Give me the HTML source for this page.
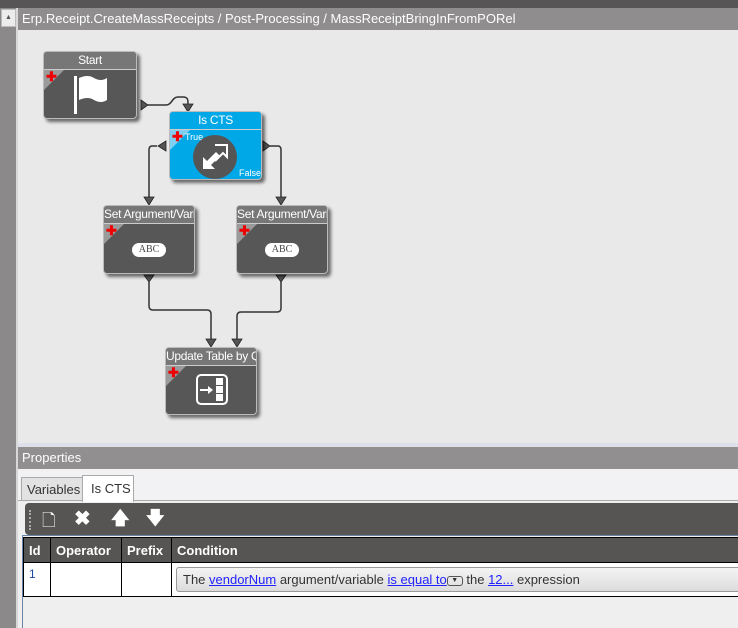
<!DOCTYPE html>
<html><head><meta charset="utf-8"><style>
*{margin:0;padding:0;box-sizing:border-box}
body{width:738px;height:628px;overflow:hidden;background:#e9e9e9;font-family:"Liberation Sans",sans-serif;position:relative}
.a{position:absolute}
.node{position:absolute;border-radius:4px;background:#575757;border:1px solid #bbb;box-shadow:3px 3px 3px rgba(0,0,0,.55);overflow:hidden}
.node .h{height:18px;border-bottom:1px solid #ccc;color:#fff;font-size:12px;text-align:center;line-height:17px;white-space:nowrap;overflow:hidden;background:#777;letter-spacing:-0.3px}
.node .tri{position:absolute;left:0;top:18px;width:0;height:0;border-top:20px solid #9a9a9a;border-right:20px solid transparent}
.node .plus{position:absolute;left:2px;top:18px;color:#e00;font-weight:bold;font-size:13px;line-height:13px}
.abc{position:absolute;background:#fff;border-radius:8px;font-family:"Liberation Serif",serif;font-size:10px;color:#444;width:34px;height:14px;text-align:center;line-height:14px}
th,td{border:1px solid #000}
</style></head><body>
<div class="a" style="left:0;top:0;width:738px;height:8px;background:#575555"></div>
<div class="a" style="left:0;top:8px;width:16px;height:620px;background:#8b8989"></div>
<div class="a" style="left:16px;top:8px;width:2px;height:620px;background:#d8d8d8"></div>
<div class="a" style="left:1px;top:9px;width:15px;height:18px;background:#ececec;border:1px solid #bbb;font-size:7px;text-align:center;line-height:16px;color:#555">▲</div>
<div class="a" style="left:18px;top:8px;width:720px;height:22px;background:#8f8d8d;color:#fff;font-size:13px;line-height:22px;padding-left:4px">Erp.Receipt.CreateMassReceipts / Post-Processing / MassReceiptBringInFromPORel</div>

<svg class="a" style="left:0;top:0" width="738" height="440">
<g fill="none" stroke="#333" stroke-width="1.5">
<path d="M148 105 H166 C172 105 172 97 178 97 H183 C188 97 188 100 188 104"/>
<path d="M157 146 H152 Q149 146 149 150 V198"/>
<path d="M270 146 H278 Q281 146 281 150 V198"/>
<path d="M149 282 V306 Q149 310 153 310 H207 Q211 310 211 314 V340"/>
<path d="M281 282 V308 Q281 312 277 312 H241 Q237 312 237 316 V340"/>
</g>
<g fill="#555" stroke="#222" stroke-width=".8">
<path d="M141 100 L148 105 L141 110Z"/>
<path d="M183 104 L193 104 L188 112Z"/>
<path d="M166 141 L158 146 L166 151Z"/>
<path d="M263 141 L270 146 L263 151Z"/>
<path d="M144 197 L154 197 L149 205Z"/>
<path d="M276 197 L286 197 L281 205Z"/>
<path d="M144 275 L154 275 L149 282Z"/>
<path d="M276 275 L286 275 L281 282Z"/>
<path d="M206 339 L216 339 L211 347Z"/>
<path d="M232 339 L242 339 L237 347Z"/>
</g>
</svg>

<div class="node" style="left:43px;top:51px;width:94px;height:68px"><div class="h">Start</div><div class="tri"></div><div class="plus">✚</div>
<svg class="a" style="left:28px;top:22px" width="40" height="42"><rect x="2" y="2" width="3" height="38" fill="#fff"/><path d="M7 4 Q16 0 22 4 Q29 8 35 4 V26 Q29 30 22 26 Q16 22 7 26Z" fill="#fff"/></svg></div>

<div class="node" style="left:169px;top:111px;width:93px;height:69px;background:#00a8e8"><div class="h" style="background:#00a8e8">Is CTS</div>
<div class="tri" style="border-top-color:#7fd0f0"></div><div class="plus">✚</div>
<div class="a" style="left:15px;top:20px;color:#fff;font-size:9px">True</div>
<div class="a" style="left:69px;top:56px;color:#fff;font-size:9px">False</div>
<div class="a" style="left:23px;top:23px;width:44px;height:44px;border-radius:50%;background:#555"></div>
<svg class="a" style="left:23px;top:23px" width="44" height="44"><path d="M10 22 V34 H22 L18 30 L27 21 L23 17 L14 26Z" fill="#fff"/><path d="M22 10 H34 V22 L30 18 L22 26" fill="none" stroke="#fff" stroke-width="2"/></svg></div>

<div class="node" style="left:103px;top:205px;width:92px;height:69px"><div class="h">Set Argument/Vari</div><div class="tri"></div><div class="plus">✚</div><div class="abc" style="left:28px;top:37px">ABC</div></div>
<div class="node" style="left:236px;top:205px;width:92px;height:69px"><div class="h">Set Argument/Vari</div><div class="tri"></div><div class="plus">✚</div><div class="abc" style="left:28px;top:37px">ABC</div></div>

<div class="node" style="left:165px;top:347px;width:92px;height:68px"><div class="h">Update Table by Q</div><div class="tri"></div><div class="plus">✚</div>
<svg class="a" style="left:28px;top:23px" width="36" height="36"><rect x="3" y="4" width="30" height="29" rx="4" fill="none" stroke="#fff" stroke-width="2"/><rect x="22" y="7" width="7" height="7" fill="#fff"/><rect x="22" y="15" width="7" height="7" fill="#fff"/><rect x="22" y="23" width="7" height="7" fill="#fff"/><path d="M6 19 H17" stroke="#fff" stroke-width="2"/><path d="M14 15 L19 19 L14 23Z" fill="#fff"/></svg></div>

<div class="a" style="left:18px;top:443px;width:720px;height:4px;background:#dde0ea"></div>
<div class="a" style="left:18px;top:447px;width:720px;height:22px;background:#918f8f;color:#fff;font-size:13px;line-height:22px;padding-left:4px">Properties</div>
<div class="a" style="left:18px;top:469px;width:720px;height:159px;background:#efefef"></div>
<div class="a" style="left:18px;top:469px;width:720px;height:32px;background:#f2f2f4;border-bottom:1px solid #aaa"></div>
<div class="a" style="left:21px;top:477px;width:62px;height:24px;background:#e2e2e2;border:1px solid #aaa;font-size:13px;line-height:24px;padding-left:5px;color:#333">Variables</div>
<div class="a" style="left:82px;top:475px;width:52px;height:27px;background:#fff;border:1px solid #aaa;border-bottom:none;font-size:13px;line-height:26px;padding-left:8px;color:#333">Is CTS</div>
<div class="a" style="left:25px;top:503px;width:713px;height:32px;background:#575553;border-radius:4px 0 0 4px;color:#fff">
<div class="a" style="left:4px;top:7px;width:2px;height:20px;border-left:2px dotted #aaa"></div>
<div class="a" style="left:17px;top:5px;font-size:17px">🗋</div>
<div class="a" style="left:49px;top:3px;font-size:20px;font-weight:bold">✖</div>
<div class="a" style="left:86px;top:3px;font-size:18px;font-weight:bold">🡅</div>
<div class="a" style="left:121px;top:3px;font-size:18px;font-weight:bold">🡇</div></div>
<div class="a" style="left:22px;top:535px;width:716px;height:93px;border-left:1px solid #6a84a8;border-top:1px solid #6a84a8"></div>
<table class="a" style="left:23px;top:537px;border-collapse:collapse;font-size:13px;width:730px">
<tr style="background:#575553;color:#fff;height:25px;font-weight:bold"><th style="width:27px;text-align:left;padding-left:5px">Id</th><th style="width:71px;text-align:left;padding-left:5px">Operator</th><th style="width:50px;text-align:left;padding-left:5px">Prefix</th><th style="text-align:left;padding-left:5px">Condition</th></tr>
<tr style="background:#fff;height:34px"><td style="vertical-align:top;padding:4px 5px;font-size:12px;color:#1a4aa0">1</td><td></td><td></td>
<td style="padding:3px 4px"><div style="border:1px solid #999;border-radius:3px;background:linear-gradient(#f4f4f4,#dcdcdc);height:25px;line-height:24px;padding-left:6px;font-size:13px;color:#333;white-space:nowrap">The <u style="color:#22f">vendorNum</u> argument/variable <u style="color:#22f">is equal to</u><span style="display:inline-block;width:16px;height:10px;border:1px solid #555;border-radius:3px;font-size:7px;line-height:8px;text-align:center;vertical-align:middle">▼</span> the <u style="color:#22f">12...</u> expression</div></td></tr>
</table>
</body></html>
